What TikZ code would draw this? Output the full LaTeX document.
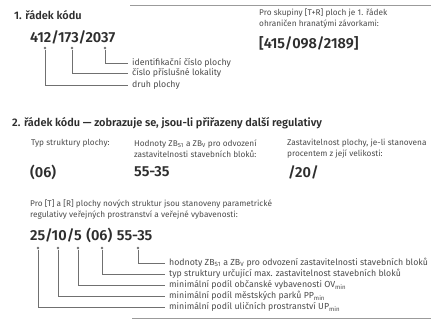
\documentclass[tikz,border=0pt]{standalone}
\usepackage{fontspec}
\setmainfont{Fira Sans}
\newfontfamily\semib{Fira Sans SemiBold}
\definecolor{txt}{HTML}{2E2E2E}
\definecolor{lbl}{HTML}{4A4A4A}
\definecolor{ln}{HTML}{707070}
\begin{document}
\begin{tikzpicture}[x=1bp,y=-1bp,
  head/.style={anchor=west,inner sep=0pt,text=txt,font=\semib\fontsize{11}{13}\selectfont},
  big/.style={anchor=west,inner sep=0pt,text=txt,font=\semib\fontsize{14.6}{16}\selectfont},
  note/.style={anchor=west,inner sep=0pt,text=lbl,font=\fontsize{8.3}{11}\selectfont,align=left},
  lab/.style={anchor=west,inner sep=0pt,text=lbl,font=\fontsize{8.8}{9}\selectfont},
  conn/.style={draw=ln,line width=0.8bp},
  dot/.style={fill=ln,circle,inner sep=0pt,minimum size=2.6bp},
  rule/.style={draw=ln!70,line width=1bp}]
\useasboundingbox (0,0) rectangle (431,322);
% rules
\coordinate (r1a) at (130,5); \coordinate (r1b) at (431,5);
\coordinate (r2a) at (132,318); \coordinate (r2b) at (431,318);
\draw[rule] (r1a) -- (r1b);
\draw[rule] (r2a) -- (r2b);
% section 1
\node[head] (h1) at (14,15) {1. řádek kódu};
\node[big] (c1) at (30,37) {412/173/2037};
\node[note] (n1) at (259,18.5) {Pro skupiny [T+R] ploch je 1. řádek\\ohraničen hranatými závorkami:};
\node[big] (c2) at (259,43) {[415/098/2189]};
\node[lab] (l11) at (132,63) {identifikační číslo plochy};
\node[lab] (l12) at (132,73) {číslo příslušné lokality};
\node[lab] (l13) at (132,85) {druh plochy};
\node[dot] (d11) at (105,48) {};
\node[dot] (d12) at (72,48) {};
\node[dot] (d13) at (45,48) {};
\draw[conn] (d11) |- ([xshift=-4bp]l11.west);
\draw[conn] (d12) |- ([xshift=-4bp]l12.west);
\draw[conn] (d13) |- ([xshift=-4bp]l13.west);
% section 2
\node[head] (h2) at (12,123) {2. řádek kódu — zobrazuje se, jsou-li přiřazeny další regulativy};
\node[note] (n21) at (31,143) {Typ struktury plochy:};
\node[note] (n22) at (134,148.5) {Hodnoty ZB\textsubscript{S1} a ZB\textsubscript{V} pro odvození\\zastavitelnosti stavebních bloků:};
\node[note] (n23) at (287,148.5) {Zastavitelnost plochy, je-li stanovena\\procentem z její velikosti:};
\node[big] (c21) at (30,172) {(06)};
\node[big] (c22) at (134,172) {55-35};
\node[big] (c23) at (288,172) {/20/};
% section 3
\node[note] (n3) at (30,209.5) {Pro [T] a [R] plochy nových struktur jsou stanoveny parametrické\\regulativy veřejných prostranství a veřejné vybavenosti:};
\node[big] (c3) at (30,235) {25/10/5\hspace{0.32em}(06)\hspace{0.32em}55-35};
\node[lab] (l31) at (169,263) {hodnoty ZB\textsubscript{S1} a ZB\textsubscript{V} pro odvození zastavitelnosti stavebních bloků};
\node[lab] (l32) at (169,274) {typ struktury určující max. zastavitelnost stavebních bloků};
\node[lab] (l33) at (169,285) {minimální podíl občanské vybavenosti OV\textsubscript{min}};
\node[lab] (l34) at (169,296) {minimální podíl městských parků PP\textsubscript{min}};
\node[lab] (l35) at (169,307) {minimální podíl uličních prostranství UP\textsubscript{min}};
\node[dot] (d31) at (138,248) {};
\node[dot] (d32) at (102,248) {};
\node[dot] (d33) at (78,248) {};
\node[dot] (d34) at (58,248) {};
\node[dot] (d35) at (38,248) {};
\draw[conn] (d31) |- ([xshift=-4bp]l31.west);
\draw[conn] (d32) |- ([xshift=-4bp]l32.west);
\draw[conn] (d33) |- ([xshift=-4bp]l33.west);
\draw[conn] (d34) |- ([xshift=-4bp]l34.west);
\draw[conn] (d35) |- ([xshift=-4bp]l35.west);
\end{tikzpicture}
\end{document}
